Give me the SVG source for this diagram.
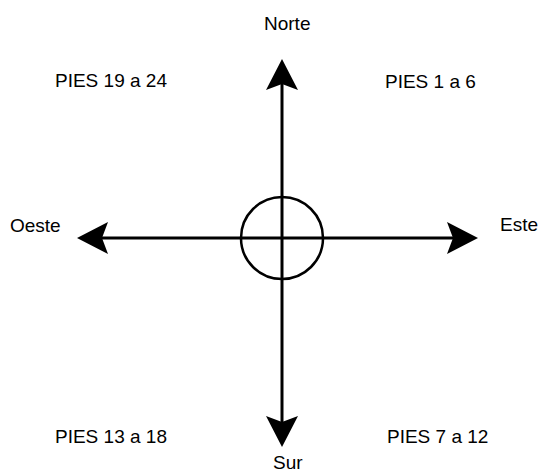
<svg xmlns="http://www.w3.org/2000/svg" width="538" height="474" viewBox="0 0 538 474">
<style>
text{font-family:"Liberation Sans",Arial,sans-serif;font-size:19px;fill:#000}
.ax{stroke:#000;stroke-width:3;fill:none}
</style>
<defs>
<marker id="ah" markerUnits="userSpaceOnUse" markerWidth="32" markerHeight="34" viewBox="0 0 32 34" refX="6" refY="17" orient="auto">
<path d="M31,17 L0,1 L6,17 L0,33 Z" fill="#000"/>
</marker>
</defs>
<rect width="538" height="474" fill="#fff"/>
<g id="connectors">
<line class="ax" x1="282" y1="238" x2="282" y2="84" marker-end="url(#ah)"/>
<line class="ax" x1="282" y1="238" x2="282" y2="422" marker-end="url(#ah)"/>
<line class="ax" x1="282" y1="238" x2="453" y2="238" marker-end="url(#ah)"/>
<line class="ax" x1="282" y1="238" x2="102" y2="238" marker-end="url(#ah)"/>
</g>
<g id="center"><circle cx="282" cy="238" r="41" fill="none" stroke="#000" stroke-width="2.5"/></g>
<g id="norte"><text x="264" y="30">Norte</text></g>
<g id="sur"><text x="273" y="469">Sur</text></g>
<g id="oeste"><text x="10" y="232">Oeste</text></g>
<g id="este"><text x="500" y="231">Este</text></g>
<g id="pies19"><text x="55" y="87">PIES 19 a 24</text></g>
<g id="pies1"><text x="385" y="88">PIES 1 a 6</text></g>
<g id="pies13"><text x="55" y="443">PIES 13 a 18</text></g>
<g id="pies7"><text x="387" y="443">PIES 7 a 12</text></g>
</svg>
